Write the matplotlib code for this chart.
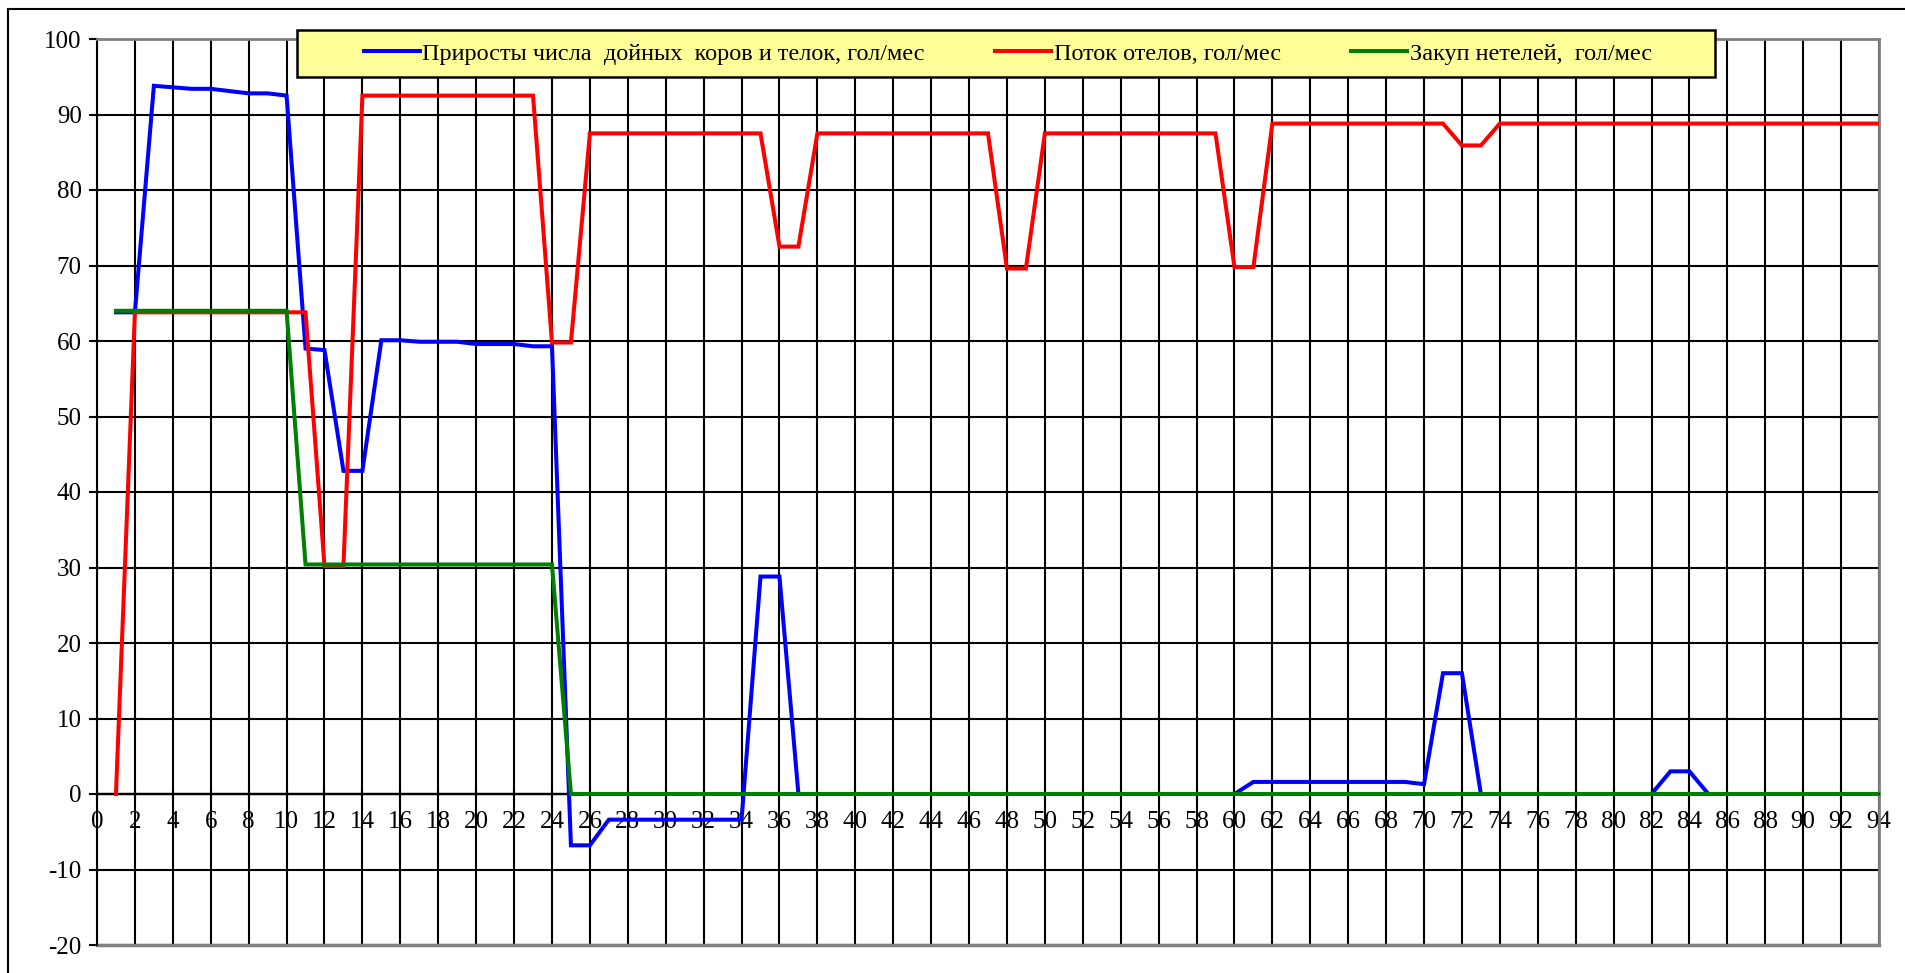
import matplotlib
matplotlib.use("Agg")
import matplotlib.pyplot as plt
from matplotlib.patches import Rectangle
from matplotlib.lines import Line2D

# ---------------- data ----------------
months = list(range(1, 95))

growth = [63.8, 63.8, 93.8, 93.6, 93.4, 93.4, 93.1, 92.8, 92.8, 92.5,
          59.0, 58.8, 42.8, 42.8, 60.1, 60.1, 59.9, 59.9, 59.9, 59.6,
          59.6, 59.6, 59.3, 59.3, -6.8, -6.8, -3.4, -3.4, -3.4, -3.4,
          -3.4, -3.4, -3.4, -3.4, 28.8, 28.8, 0, 0, 0, 0,
          0, 0, 0, 0, 0, 0, 0, 0, 0, 0,
          0, 0, 0, 0, 0, 0, 0, 0, 0, 0,
          1.6, 1.6, 1.6, 1.6, 1.6, 1.6, 1.6, 1.6, 1.6, 1.3,
          16.0, 16.0, 0, 0, 0, 0, 0, 0, 0, 0,
          0, 0, 3.0, 3.0, 0, 0, 0, 0, 0, 0,
          0, 0, 0, 0]

calving = [0, 63.8, 63.8, 63.8, 63.8, 63.8, 63.8, 63.8, 63.8, 63.8,
           63.8, 30.2, 30.2, 92.5, 92.5, 92.5, 92.5, 92.5, 92.5, 92.5,
           92.5, 92.5, 92.5, 59.8, 59.8, 87.5, 87.5, 87.5, 87.5, 87.5,
           87.5, 87.5, 87.5, 87.5, 87.5, 72.5, 72.5, 87.5, 87.5, 87.5,
           87.5, 87.5, 87.5, 87.5, 87.5, 87.5, 87.5, 69.6, 69.6, 87.5,
           87.5, 87.5, 87.5, 87.5, 87.5, 87.5, 87.5, 87.5, 87.5, 69.8,
           69.8, 88.8, 88.8, 88.8, 88.8, 88.8, 88.8, 88.8, 88.8, 88.8,
           88.8, 85.9, 85.9, 88.8, 88.8, 88.8, 88.8, 88.8, 88.8, 88.8,
           88.8, 88.8, 88.8, 88.8, 88.8, 88.8, 88.8, 88.8, 88.8, 88.8,
           88.8, 88.8, 88.8, 88.8]

heifers = [64.0] * 10 + [30.4] * 14 + [0.0] * 70

series_labels = ["Приросты числа  дойных  коров и телок, гол/мес",
                 "Поток отелов, гол/мес",
                 "Закуп нетелей,  гол/мес"]
series_colors = ["#0000FF", "#FF0000", "#008000"]

x_ticks = list(range(0, 95, 2))
y_ticks = list(range(-20, 101, 10))

# ---------------- figure ----------------
plt.rcParams["font.family"] = ["Liberation Serif", "DejaVu Serif"]
fig = plt.figure(figsize=(19.06, 9.73), dpi=100)
W, H = 1906, 973
FS = 17.5
TFS = 18

# outer chart border (only left and top visible in the reference)
fig.add_artist(Line2D([8 / W, 8 / W], [0, 1 - 9 / H], transform=fig.transFigure,
                      color="black", lw=1.5))
fig.add_artist(Line2D([8 / W, 1], [1 - 9 / H, 1 - 9 / H], transform=fig.transFigure,
                      color="black", lw=1.5))

left, right, top, bottom = 97, 1879, 39, 945
ax = fig.add_axes([left / W, 1 - bottom / H, (right - left) / W, (bottom - top) / H])

ax.set_xlim(0, 94)
ax.set_ylim(-20, 100)
ax.set_xticks(x_ticks)
ax.set_yticks(y_ticks)
ax.set_xticklabels([str(v) for v in x_ticks])
ax.set_yticklabels([str(v) for v in y_ticks])

ax.grid(True, color="black", lw=1.5)
ax.set_axisbelow(True)

for sp in ("top", "right"):
    ax.spines[sp].set_color("#808080")
    ax.spines[sp].set_linewidth(2)
ax.spines["left"].set_color("black")
ax.spines["left"].set_linewidth(1.5)
ax.spines["bottom"].set_position(("data", 0))
ax.spines["bottom"].set_color("black")
ax.spines["bottom"].set_linewidth(1.7)
ax.axhline(-20, color="#808080", lw=2.5, zorder=1.5, clip_on=False)

ax.tick_params(axis="y", direction="out", length=6, width=1.5, pad=5,
               labelsize=TFS, colors="black")
ax.tick_params(axis="x", direction="inout", length=8, width=1.5, pad=8,
               labelsize=TFS, colors="black")

lines = []
for data, col, lab in zip([growth, calving, heifers], series_colors, series_labels):
    ln, = ax.plot(months, data, color=col, lw=2.9, label=lab,
                  solid_joinstyle="miter", zorder=3)
    lines.append(ln)

# legend frame
lx0, lx1, ly0, ly1 = 297, 1715, 30, 77
fig.add_artist(Rectangle((lx0 / W, 1 - ly1 / H), (lx1 - lx0) / W, (ly1 - ly0) / H,
                         transform=fig.transFigure, facecolor="#FFFF99",
                         edgecolor="black", lw=1.8, zorder=5))
leg = fig.legend(handles=lines, labels=series_labels, ncol=3, frameon=False,
                 loc="center", bbox_to_anchor=((368 + 1648) / 2 / W, 1 - (ly0 + ly1) / 2 / H),
                 fontsize=FS, handlelength=2.3, handletextpad=0.1,
                 columnspacing=2.9, borderpad=0.2)
leg.set_zorder(6)

fig.savefig("out.png", dpi=100)
